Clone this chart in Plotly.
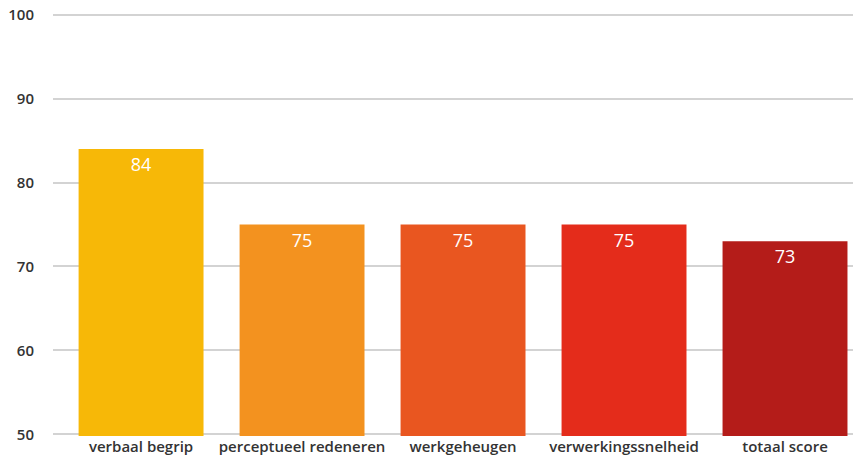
import plotly.graph_objects as go

categories = ["verbaal begrip", "perceptueel redeneren", "werkgeheugen", "verwerkingssnelheid", "totaal score"]
values = [84, 75, 75, 75, 73]
colors = ["#F7B807", "#F3921F", "#E95620", "#E42C1B", "#B41C19"]
y_ticks = [50, 60, 70, 80, 90, 100]

fig = go.Figure(go.Bar(
    x=list(range(len(categories))),
    y=values,
    base=0,
    marker=dict(color=colors, line=dict(width=0)),
    width=0.776,
    text=[str(v) for v in values],
    textposition="inside",
    insidetextanchor="end",
    textangle=0,
    textfont=dict(color="white", size=18, family="Open Sans", weight=500),
    hoverinfo="skip",
))

# page body has an 8px default margin, so the figure is 8px smaller and shifted
fig.update_layout(
    width=853, height=455,
    margin=dict(l=45, r=0, t=5, b=27),
    paper_bgcolor="white", plot_bgcolor="white",
    showlegend=False,
    font=dict(family="Open Sans", color="#333333"),
    uniformtext=dict(mode="show", minsize=18),
)
fig.update_xaxes(
    range=[-0.547, 4.472],
    tickmode="array", tickvals=list(range(len(categories))), ticktext=categories,
    tickfont=dict(size=15, color="#333333", family="Open Sans", weight=600),
    showgrid=False, showline=False, zeroline=False, ticks="",
    ticklabeloverflow="allow",
    automargin=False, fixedrange=True,
)
fig.update_yaxes(
    range=[49.8, 100.2],
    tickmode="array", tickvals=y_ticks, ticktext=[str(t) for t in y_ticks],
    tickfont=dict(size=15, color="#333333", family="Open Sans", weight=600),
    showgrid=True, gridcolor="#D3D3D3", gridwidth=1.5,
    zeroline=False, showline=False, ticks="",
    ticklabelstandoff=18,
    ticklabeloverflow="allow",
    automargin=False, fixedrange=True,
)

fig.write_html("out.html")
